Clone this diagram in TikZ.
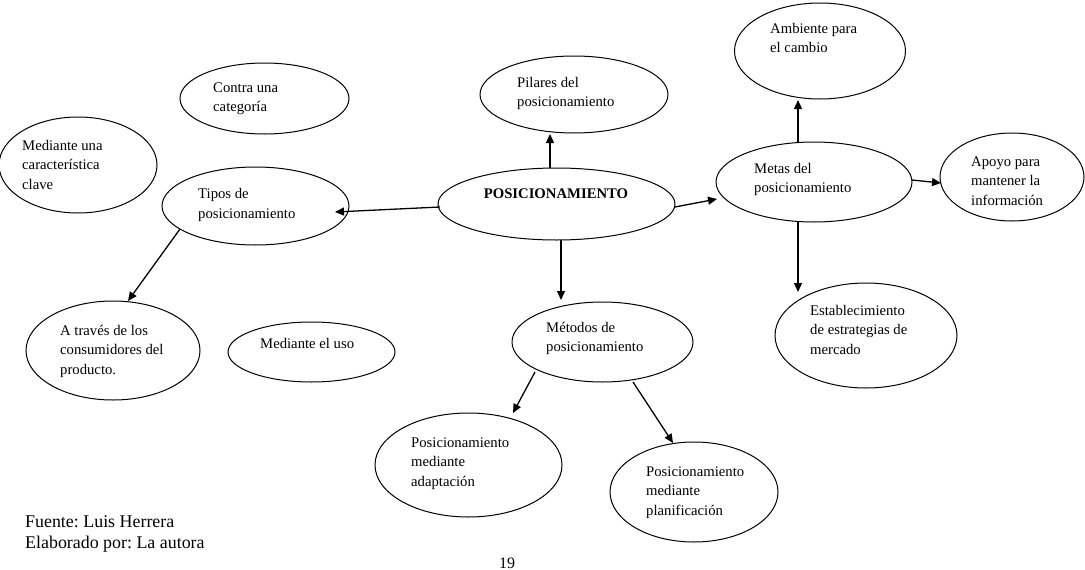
\documentclass[tikz,border=0pt]{standalone}
\usepackage{fontspec}
\setmainfont{Liberation Serif}
\usetikzlibrary{shapes.geometric,arrows.meta,calc}
\frenchspacing
\newcommand\mylines[1]{\begin{tabular}[t]{@{}l@{}}#1\end{tabular}}
\tikzset{
  oval/.style={draw, ellipse, line width=1pt, inner sep=0pt},
  txt/.style={anchor=base west, inner sep=0pt, font=\fontsize{14.7}{19.5}\selectfont},
  foot/.style={anchor=base west, inner sep=0pt, font=\fontsize{17.9}{21}\selectfont},
  conn/.style={line width=1.3pt, -{Triangle[length=9pt,width=8pt]}}
}
\begin{document}
\begin{tikzpicture}[x=1pt,y=-1pt]
\useasboundingbox (0,0) rectangle (1085,570);
% ellipses
\node[oval, minimum width=169pt, minimum height=71pt] (contra) at (264.5,98.5) {};
\node[oval, minimum width=158pt, minimum height=96pt] (clave) at (78,165) {};
\node[oval, minimum width=187pt, minimum height=78pt] (tipos) at (255.5,206) {};
\node[oval, minimum width=188pt, minimum height=77pt] (pilares) at (574,94.5) {};
\node[oval, minimum width=237pt, minimum height=72pt] (posic) at (556.5,204) {};
\node[oval, minimum width=196pt, minimum height=80pt] (metas) at (814,182) {};
\node[oval, minimum width=171pt, minimum height=96pt] (ambiente) at (820,51) {};
\node[oval, minimum width=144pt, minimum height=88pt] (apoyo) at (1012,177) {};
\node[oval, minimum width=182pt, minimum height=105pt] (estab) at (866,335.5) {};
\node[oval, minimum width=174pt, minimum height=99pt] (atraves) at (113,350.5) {};
\node[oval, minimum width=167pt, minimum height=60pt] (uso) at (311.5,352) {};
\node[oval, minimum width=181pt, minimum height=80pt] (metodos) at (602.5,342) {};
\node[oval, minimum width=187pt, minimum height=104pt] (adapt) at (468.5,465) {};
\node[oval, minimum width=168pt, minimum height=100pt] (planif) at (694,492) {};
% texts
\node[txt] (tcontra) at (213,92) {\mylines{Contra una\\categoría}};
\node[txt] (tclave) at (22,150) {\mylines{Mediante una\\característica\\clave}};
\node[txt] (ttipos) at (198,198.5) {\mylines{Tipos de\\posicionamiento}};
\node[txt] (tpilares) at (517,87) {\mylines{Pilares del\\posicionamiento}};
\node[txt, anchor=base] (tposic) at (556,198) {\bfseries POSICIONAMIENTO};
\node[txt] (tmetas) at (754,173) {\mylines{Metas del\\posicionamiento}};
\node[txt] (tambiente) at (770,33) {\mylines{Ambiente para\\el cambio}};
\node[txt] (tapoyo) at (971,166) {\mylines{Apoyo para\\mantener la\\información}};
\node[txt] (testab) at (810,315) {\mylines{Establecimiento\\de estrategias de\\mercado}};
\node[txt] (tatraves) at (60,335) {\mylines{A través de los\\consumidores del\\producto.}};
\node[txt] (tuso) at (260,348) {Mediante el uso};
\node[txt] (tmetodos) at (546,332) {\mylines{Métodos de\\posicionamiento}};
\node[txt] (tadapt) at (411,447) {\mylines{Posicionamiento\\mediante\\adaptación}};
\node[txt] (tplanif) at (646,476) {\mylines{Posicionamiento\\mediante\\planificación}};
% footer
\node[foot] (fuente) at (25,527) {Fuente: Luis Herrera};
\node[foot] (elab) at (25,548) {Elaborado por: La autora};
\node[foot, anchor=base, font=\fontsize{16}{18}\selectfont] (page) at (507,568) {19};
% connectors
\draw[conn] ($(posic.center)+(-116.5,3)$) -- ($(tipos.center)+(79.5,6)$);
\draw[conn] ($(posic.center)+(-6.5,-36)$) -- ($(pilares.center)+(-24,39.5)$);
\draw[conn] ($(posic.center)+(4.5,36)$) -- ($(metodos.center)+(-41.5,-42)$);
\draw[conn] ($(posic.center)+(118.5,3)$) -- ($(metas.center)+(-97,17)$);
\draw[conn] ($(metas.center)+(-16,-39)$) -- ($(ambiente.center)+(-22,49)$);
\draw[conn] ($(metas.center)+(98,-2)$) -- ($(apoyo.center)+(-71,6)$);
\draw[conn] ($(metas.center)+(-16,40)$) -- ($(estab.center)+(-68,-43.5)$);
\draw[conn] ($(tipos.center)+(-75.5,23)$) -- ($(atraves.center)+(15,-49.5)$);
\draw[conn] ($(metodos.center)+(-67.5,30)$) -- ($(adapt.center)+(44.5,-52)$);
\draw[conn] ($(metodos.center)+(30.5,40)$) -- ($(planif.center)+(-21,-49)$);
\end{tikzpicture}
\end{document}
